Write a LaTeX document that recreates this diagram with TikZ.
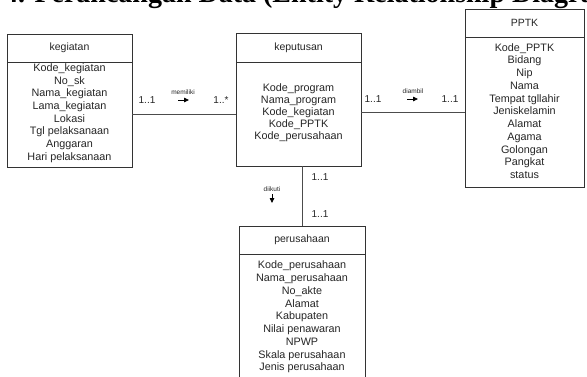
\documentclass[tikz,border=0pt]{standalone}
\usepackage{fontspec}
\setmainfont{Liberation Sans}
\newfontfamily\titlefont{Liberation Serif}
\usetikzlibrary{arrows.meta}
\begin{document}
\begin{tikzpicture}[x=1pt,y=-1pt,
  ent/.style={draw=black!80, line width=0.9pt, inner sep=0pt, fill=white, text=black!85,
    font=\fontsize{10.5}{12}\selectfont},
  attr/.style={align=center, inner sep=0pt, text=black!85, font=\fontsize{10.8}{#1}\selectfont},
  attr/.default=12,
  lbl/.style={inner sep=0pt, text=black!85, font=\fontsize{10}{12}\selectfont},
  rel/.style={inner sep=0pt, text=black!85, font=\fontsize{6.5}{7}\selectfont},
  conn/.style={draw=black!70, line width=1pt},
  dirarrow/.style={draw=black, line width=0.8pt, -{Triangle[length=5pt,width=4.5pt]}}
]
\useasboundingbox (0,0) rectangle (587,376);
\clip (0,0) rectangle (587,376);
\fill[white] (0,0) rectangle (587,376);

% title (top cut off)
\node[anchor=south west, inner sep=0pt, font=\titlefont\bfseries\fontsize{28}{32}\selectfont] (title) at (4,8.5)
  {4. Perancangan Data (Entity Relationship Diagram)};

% kegiatan
\node[ent, minimum width=125pt, minimum height=28pt] (kegH) at (69.5,48) {kegiatan};
\node[ent, minimum width=125pt, minimum height=105pt] (kegB) at (69.5,114.5) {};
\node[attr=12.7] (kegA) at (69.5,113) {Kode\_kegiatan\\No\_sk\\Nama\_kegiatan\\Lama\_kegiatan\\Lokasi\\Tgl pelaksanaan\\Anggaran\\Hari pelaksanaan};

% keputusan
\node[ent, minimum width=125pt, minimum height=29pt] (kepH) at (298.5,47.5) {keputusan};
\node[ent, minimum width=125pt, minimum height=104pt] (kepB) at (298.5,114) {};
\node[attr] (kepA) at (298.5,113) {Kode\_program\\Nama\_program\\Kode\_kegiatan\\Kode\_PPTK\\Kode\_perusahaan};

% PPTK
\node[ent, minimum width=119pt, minimum height=28pt] (ppH) at (524.5,23) {PPTK};
\node[ent, minimum width=119pt, minimum height=150pt] (ppB) at (524.5,112) {};
\node[attr=12.76] (ppA) at (524.5,111) {Kode\_PPTK\\Bidang\\Nip\\Nama\\Tempat tgllahir\\Jeniskelamin\\Alamat\\Agama\\Golongan\\Pangkat\\status};

% perusahaan
\node[ent, minimum width=126pt, minimum height=28pt] (perH) at (302,240) {perusahaan};
\node[ent, minimum width=126pt, minimum height=136pt] (perB) at (302,322) {};
\node[attr=12.75] (perA) at (302,317) {Kode\_perusahaan\\Nama\_perusahaan\\No\_akte\\Alamat\\Kabupaten\\Nilai penawaran\\NPWP\\Skala perusahaan\\Jenis perusahaan};

% connectors
\draw[conn] (kegB.east) -- (kegB.east -| kepB.west);
\draw[conn] (ppB.west -| kepB.east) -- (ppB.west);
\draw[conn] (kepB.south -| perH.north) -- (perH.north);

% labels kegiatan - keputusan
\node[lbl] (c1) at (147,100) {1..1};
\node[rel] (r1) at (183,92) {memiliki};
\coordinate (a1s) at (178,100);
\coordinate (a1e) at (189,100);
\draw[dirarrow] (a1s) -- (a1e);
\node[lbl] (c2) at (221,100) {1..*};

% labels keputusan - PPTK
\node[lbl] (c3) at (373,99) {1..1};
\node[rel] (r2) at (413,91) {diambil};
\coordinate (a2s) at (407,99);
\coordinate (a2e) at (418,99);
\draw[dirarrow] (a2s) -- (a2e);
\node[lbl] (c4) at (450,99) {1..1};

% labels keputusan - perusahaan
\node[lbl] (c5) at (320,177) {1..1};
\node[rel] (r3) at (272,189) {diikuti};
\coordinate (a3s) at (272,194);
\coordinate (a3e) at (272,203);
\draw[dirarrow] (a3s) -- (a3e);
\node[lbl] (c6) at (320,214) {1..1};
\end{tikzpicture}
\end{document}
